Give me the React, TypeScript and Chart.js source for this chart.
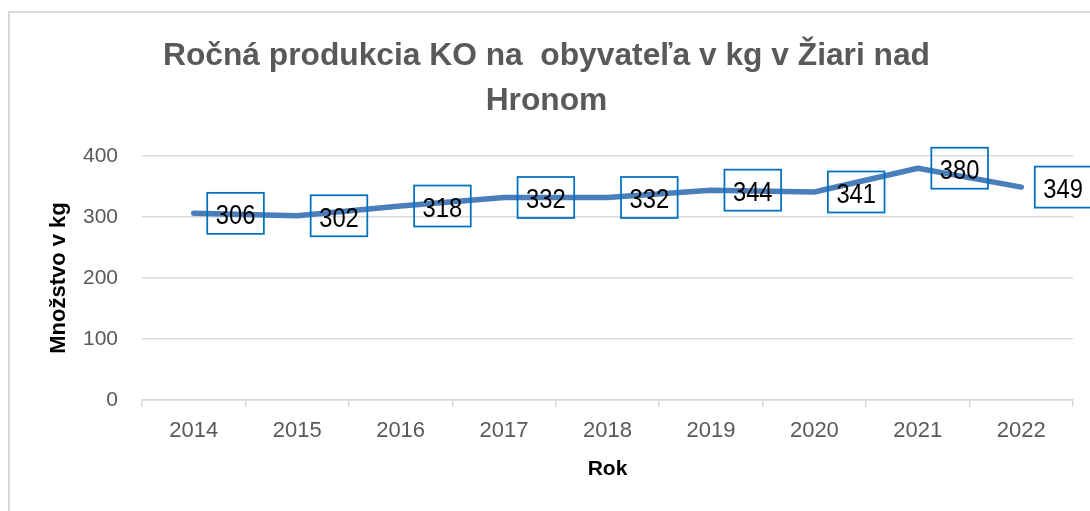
import { useEffect, useRef } from 'react';
import { Chart, registerables } from 'chart.js';

Chart.register(...registerables);

const years = ['2014', '2015', '2016', '2017', '2018', '2019', '2020', '2021', '2022'];
const values = [306, 302, 318, 332, 332, 344, 341, 380, 349];
const yMin = 0;
const yMax = 400;
const yStep = 100;
const titleLines = ['Ročná produkcia KO na  obyvateľa v kg v Žiari nad', 'Hronom'];
const yTitle = 'Množstvo v kg';
const xTitle = 'Rok';

const FONT = "'Liberation Sans', Arial, sans-serif";

const framePlugin = {
  id: 'frame',
  beforeDraw(chart: any) {
    const ctx = chart.ctx;
    ctx.save();
    ctx.fillStyle = '#ffffff';
    ctx.fillRect(0, 0, chart.width, chart.height);
    ctx.strokeStyle = '#d9d9d9';
    ctx.lineWidth = 2;
    ctx.strokeRect(9, 12, chart.width + 20, chart.height + 20);
    ctx.restore();
  },
};

const titlePlugin = {
  id: 'customTitle',
  afterDraw(chart: any) {
    const ctx = chart.ctx;
    ctx.save();
    const size = 31.5;
    ctx.font = `bold ${size}px ${FONT}`;
    const m = ctx.measureText(titleLines[0]).width;
    const sx = 767 / m;
    ctx.fillStyle = '#595959';
    ctx.textAlign = 'center';
    ctx.textBaseline = 'alphabetic';
    const baselines = [64.5, 109.5];
    titleLines.forEach((line, i) => {
      ctx.save();
      ctx.translate(546.5, baselines[i]);
      ctx.scale(sx, 1);
      ctx.fillText(line, 0, 0);
      ctx.restore();
    });
    ctx.restore();
  },
};

const labelPlugin = {
  id: 'boxLabels',
  afterDatasetsDraw(chart: any) {
    const ctx = chart.ctx;
    const meta = chart.getDatasetMeta(0);
    ctx.save();
    ctx.font = `27px ${FONT}`;
    const sx = 0.88;
    meta.data.forEach((pt: any, i: number) => {
      const txt = String(values[i]);
      const tw = ctx.measureText(txt).width * sx;
      const w = tw + 17;
      const h = 41;
      const left = pt.x + 13.5;
      const top = pt.y - h / 2;
      ctx.strokeStyle = '#0070c0';
      ctx.lineWidth = 1.75;
      ctx.strokeRect(left, top, w, h);
      ctx.fillStyle = '#000000';
      ctx.textAlign = 'center';
      ctx.textBaseline = 'alphabetic';
      ctx.save();
      ctx.translate(left + w / 2, pt.y + 11);
      ctx.scale(sx, 1);
      ctx.fillText(txt, 0, 0);
      ctx.restore();
    });
    ctx.restore();
  },
};

export default function App() {
  const ref = useRef<HTMLCanvasElement | null>(null);

  useEffect(() => {
    if (!ref.current) return;
    const chart = new Chart(ref.current, {
      type: 'line',
      data: {
        labels: years,
        datasets: [
          {
            data: values,
            borderColor: '#4a7ebb',
            borderWidth: 5.5,
            borderCapStyle: 'round',
            borderJoinStyle: 'round',
            pointRadius: 0,
            pointHoverRadius: 0,
            tension: 0,
            fill: false,
            clip: false,
          } as any,
        ],
      },
      options: {
        animation: false,
        responsive: false,
        maintainAspectRatio: false,
        layout: { padding: { top: 156, right: 17, bottom: 29, left: 46 } },
        plugins: {
          legend: { display: false },
          title: { display: false },
          tooltip: { enabled: false },
        },
        scales: {
          x: {
            type: 'category',
            offset: true,
            grid: {
              offset: true,
              drawOnChartArea: false,
              drawTicks: true,
              tickLength: 7,
              color: '#d9d9d9',
              lineWidth: 1.5,
            },
            border: { display: true, color: '#d9d9d9', width: 1.5 },
            ticks: {
              color: '#595959',
              font: { family: FONT, size: 22 },
              padding: 11,
              maxRotation: 0,
            },
            title: {
              display: true,
              text: xTitle,
              color: '#000000',
              font: { family: FONT, size: 21, weight: 'bold' },
              padding: { top: 0, bottom: 0 },
            },
            afterFit(scale: any) {
              scale.height = 82;
            },
          },
          y: {
            min: yMin,
            max: yMax,
            ticks: {
              stepSize: yStep,
              color: '#595959',
              font: { family: FONT, size: 21 },
              padding: 24,
            },
            grid: { color: '#d9d9d9', lineWidth: 1.5, drawTicks: false },
            border: { display: false },
            title: {
              display: true,
              text: yTitle,
              color: '#000000',
              font: { family: FONT, size: 22, weight: 'bold' },
              padding: { top: 0, bottom: 0 },
            },
            afterFit(scale: any) {
              scale.width = 96;
            },
          },
        },
      },
      plugins: [framePlugin, titlePlugin, labelPlugin],
    });
    return () => chart.destroy();
  }, []);

  return (
    <div style={{ position: 'absolute', left: 0, top: 0, width: 1090, height: 511 }}>
      <canvas ref={ref} width={1090} height={511} style={{ display: 'block' }} />
    </div>
  );
}
